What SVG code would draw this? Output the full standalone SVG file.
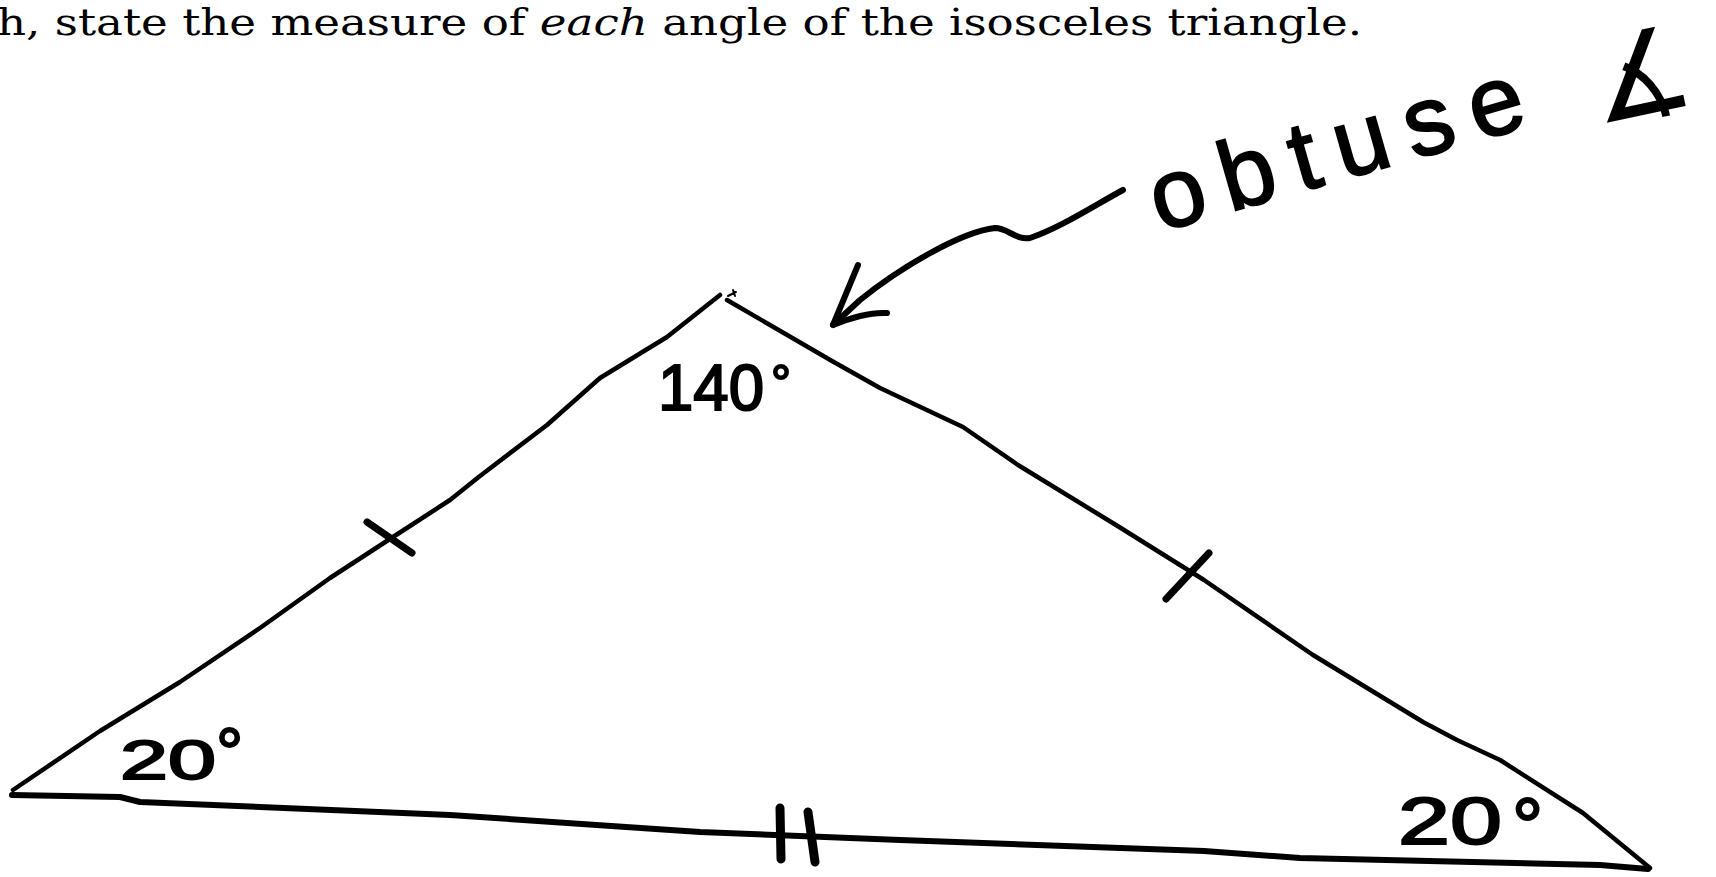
<svg xmlns="http://www.w3.org/2000/svg" width="1716" height="877" viewBox="0 0 1716 877">
<style>
.ink{fill:none;stroke:#000;stroke-linecap:round;stroke-linejoin:round}
.side{stroke-width:4.5}
.base{stroke-width:6}
.tick{stroke-width:7}
.hand{font-family:"Liberation Sans",Arial,sans-serif;fill:#000;stroke:#000;stroke-width:2}
.print{font-family:"DejaVu Serif","Liberation Serif",serif;fill:#000}
</style>
<rect width="1716" height="877" fill="#fff"/>
<g id="header">
<text class="print" x="-3" y="35" font-size="38" textLength="1365" lengthAdjust="spacingAndGlyphs">h, state the measure of <tspan font-style="italic">each</tspan> angle of the isosceles triangle.</text>
</g>
<g id="triangle">
<polyline class="ink side" points="13,790 100,731 180,682 260,628 330,578 393,537 450,500 480,476 547,425 600,378 667,337 720,295"/>
<polyline class="ink side" points="727,300 832,361 880,388 963,427 1018,465 1116,525 1204,580 1313,655 1423,722 1457,740 1500,760 1583,813 1650,868"/>
<polyline class="ink base" points="12,795 120,797 140,802 450,815 700,832 900,840 1204,851 1300,858 1600,865 1648,869"/>
<path class="ink" stroke-width="2" d="M728,296 l8,-4 M733,290 l2,6"/>
</g>
<g id="ticks">
<line class="ink tick" x1="367" y1="522" x2="412" y2="553"/>
<line class="ink tick" x1="1166" y1="599" x2="1209" y2="553"/>
<line class="ink" stroke-width="9" x1="780" y1="808" x2="781" y2="859"/>
<line class="ink" stroke-width="9" x1="808" y1="812" x2="815" y2="862"/>
</g>
<g id="angle-labels">
<text class="hand" x="658" y="410" font-size="64"><tspan textLength="106" lengthAdjust="spacingAndGlyphs">140</tspan><tspan x="771" y="400" font-size="50">°</tspan></text>
<text class="hand" x="120" y="779" font-size="56"><tspan textLength="96" lengthAdjust="spacingAndGlyphs">20</tspan><tspan x="216" y="776" font-size="68">°</tspan></text>
<text class="hand" x="1398" y="844" font-size="66"><tspan textLength="104" lengthAdjust="spacingAndGlyphs">20</tspan><tspan x="1512" y="853" font-size="78">°</tspan></text>
</g>
<g id="note">
<text class="hand" x="1160" y="232" font-size="98" stroke-width="3" textLength="385" lengthAdjust="spacing" transform="rotate(-16 1160 232)">obtuse</text>
<text x="1596" y="124" font-size="115" font-family="DejaVu Sans,sans-serif" fill="#000" transform="rotate(-12 1600 118)">∡</text>
</g>
<g id="connectors">
<path class="ink" stroke-width="6" d="M1123,190 C1095,205 1060,228 1030,238 C1015,240 1008,228 995,228 C960,232 900,268 860,300 L833,325"/>
<path class="ink" stroke-width="6" d="M858,265 L833,325 C850,318 870,312 887,313"/>
</g>
</svg>
